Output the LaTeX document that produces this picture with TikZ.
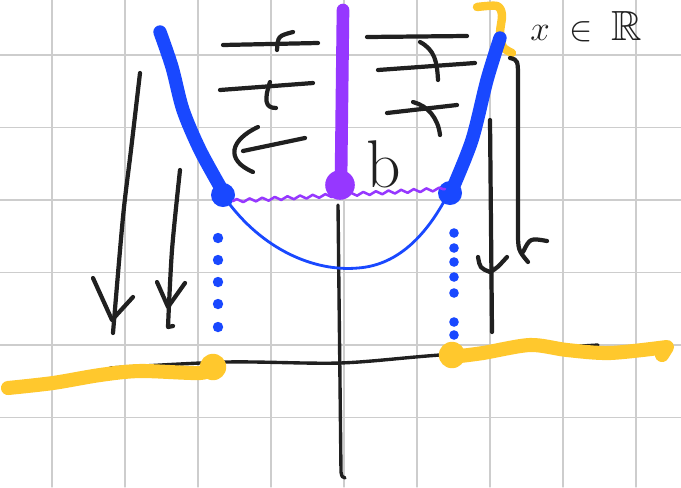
\documentclass[tikz,border=0pt]{standalone}
\usepackage{amssymb}
\usetikzlibrary{decorations.pathmorphing}
\definecolor{penBlack}{RGB}{32,32,32}
\definecolor{penBlue}{RGB}{25,72,255}
\definecolor{penPurple}{RGB}{150,55,255}
\definecolor{penYellow}{RGB}{255,200,45}
\definecolor{gridGrey}{RGB}{205,205,205}

\begin{document}
\begin{tikzpicture}[x=0.025cm,y=-0.025cm,line cap=round,line join=round,
  gridline/.style={draw=gridGrey,line width=0.9pt},
  ink/.style={draw=penBlack,line width=3pt},
  axisline/.style={draw=penBlack,line width=2.4pt},
  fatblue/.style={draw=penBlue,line width=9.5pt},
  thinblue/.style={draw=penBlue,line width=2pt},
  fatpurple/.style={draw=penPurple,line width=9pt},
  thinpurple/.style={draw=penPurple,line width=1.8pt,decorate,decoration={snake,amplitude=1.2pt,segment length=9pt}},
  hilite/.style={draw=penYellow,line width=10pt}]
\path[use as bounding box,fill=white] (0,0) rectangle (681,487);

\foreach \gx in {52,125,...,637} \draw[gridline] (\gx,0) -- (\gx,487);
\foreach \gy in {55,127.5,...,420} \draw[gridline] (0,\gy) -- (681,\gy);

% axes
\draw[axisline] plot[smooth] coordinates {(110,368) (227,362) (340,363) (440,355) (598,345)};
\draw[axisline] (338,205) -- (341,472) .. controls (342,477) .. (345,478);

% yellow parts
\draw[hilite] plot[smooth] coordinates {(8,388) (53,383) (100,375) (140,371) (200,373) (213,367)};
\fill[penYellow] (213,367) circle (0.33cm);
\draw[hilite] plot[smooth] coordinates {(452,357) (483,353) (530,345) (567,350) (610,353) (667,347)} -- (662,355);
\fill[penYellow] (452,355) circle (0.33cm);
\draw[penYellow,line width=6pt] plot[smooth] coordinates {(477,7) (497,6) (502,15) (500,33) (503,47) (512,53)};

% arrows down
\draw[ink] plot[smooth] coordinates {(140,73) (131,150) (123,217) (113,333)};
\draw[ink] (93,278) -- (112,320) -- (133,297);
\draw[ink] plot[smooth] coordinates {(180,170) (172,250) (168,327)} -- (173,326);
\draw[ink] (157,282) -- (168,307) -- (185,283);
\draw[ink] (490,120) -- (492,332);
\draw[ink] (478,257) .. controls (480,268) .. (490,272) .. controls (497,268) .. (507,257);
\draw[ink] (510,58) .. controls (518,60) .. (518,80) -- (518,230) .. controls (518,250) .. (528,262);
\draw[ink] (523,252) .. controls (530,238) .. (547,241);

% marks left and right of the axis
\draw[ink] (223,45) -- (318,43);
\draw[ink] (277,50) .. controls (278,36) .. (293,32);
\draw[ink] (220,90) -- (313,83);
\draw[ink] (270,82) .. controls (264,100) and (265,108) .. (276,108);
\draw[ink] (258,127) .. controls (230,140) and (225,160) .. (253,172);
\draw[ink] (243,151) -- (305,138);
\draw[ink] (367,37) -- (467,36);
\draw[ink] (378,70) -- (475,63);
\draw[ink] (420,42) .. controls (435,50) and (437,62) .. (438,80);
\draw[ink] (387,113) -- (457,105);
\draw[ink] (413,102) .. controls (428,106) and (438,118) .. (440,135);

% blue parts
\draw[thinblue] (225,198) .. controls (262,250) and (315,272) .. (358,268) .. controls (400,265) and (428,232) .. (447,196);
\draw[fatblue] plot[smooth] coordinates {(160,32) (172,67) (183,110) (200,150) (222,190)};
\fill[penBlue] (223,195) circle (0.3cm);
\draw[fatblue] plot[smooth] coordinates {(500,38) (487,80) (472,140) (452,190)};
\fill[penBlue] (450,193) circle (0.3cm);
\foreach \dy in {238,260,282,304,327} \fill[penBlue] (218,\dy) circle (0.13cm);
\foreach \dy in {233,248,262,277,293,322,335} \fill[penBlue] (454,\dy) circle (0.12cm);

% purple parts
\draw[thinpurple] (233,201) -- (445,189);
\draw[fatpurple] (343,10) -- (341,180);
\fill[penPurple] (340,185) circle (0.37cm);

\node[anchor=base west,inner sep=0pt,text=penBlack,font=\fontsize{48}{48}\selectfont] (bLabel) at (366,187) {b};
\node[anchor=base west,inner sep=0pt,text=penBlack,font=\fontsize{30}{30}\selectfont] (setLabel) at (530,40) {$x\;\in\;\mathbb{R}$};
\end{tikzpicture}
\end{document}
